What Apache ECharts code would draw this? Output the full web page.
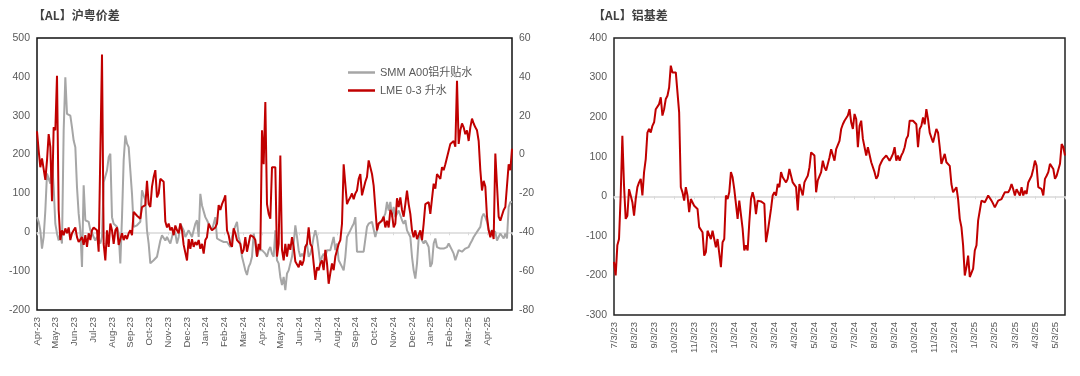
<!DOCTYPE html>
<html>
<head>
<meta charset="utf-8">
<script src="https://cdn.jsdelivr.net/npm/echarts@6/dist/echarts.min.js"></script>
<style>
html,body{margin:0;padding:0;background:#fff;}
#c{width:1080px;height:376px;}
</style>
</head>
<body>
<div id="c"></div>
<script>
// ---------------- DATA ----------------
// Left chart: month tick labels (one per month from Apr-23)
const monthLabelsL = ['Apr-23','May-23','Jun-23','Jul-23','Aug-23','Sep-23','Oct-23','Nov-23','Dec-23',
  'Jan-24','Feb-24','Mar-24','Apr-24','May-24','Jun-24','Jul-24','Aug-24','Sep-24','Oct-24','Nov-24','Dec-24',
  'Jan-25','Feb-25','Mar-25','Apr-25'];
// sampling interval of the readings, in months
const stepL = 4 / 45;
// SMM A00 premium (left axis), read every stepL months from Apr-23
const smm = [
  39, 27, 5, -42, -12, 56, 151, 151, 125, 185,
  116, 22, -3, -21, -3, -29, 262, 399, 305, 300,
  300, 270, 236, 219, 116, 48, 5, -89, 121, 31,
  31, 27, 5, -3, -12, -21, -12, -12, -29, -12,
  129, 129, 159, 193, 202, 39, 22, 22, 14, -3,
  -80, 39, 185, 249, 228, 219, 159, 99, 14, 14,
  18, 22, 27, 108, 108, 82, 5, -29, -80, -80,
  -72, -72, -63, -63, -21, -8, -12, -21, -12, -21,
  -29, -12, 5, -3, -29, -12, 22, 22, 5, -12,
  -3, 5, 5, -12, 5, 22, 31, -12, 99, 69,
  65, 39, 31, 22, 22, 5, 22, 39, -16, -21,
  -21, -25, -25, -29, -25, -29, -38, -12, 5, 5,
  27, -12, -29, -63, -80, -98, -110, -89, -80, -63,
  -3, -29, -63, -46, -46, -46, -50, -55, -63, -46,
  -38, -55, -63, 5, -72, -80, -115, -136, -115, -149,
  -106, -98, -80, -63, -29, 18, -12, -46, -63, -55,
  -63, -38, -29, -63, -55, -38, -12, 5, -12, -46,
  -80, -63, -55, -63, -46, -46, -46, -29, -12, -46,
  -29, -72, -72, -89, -98, -63, -12, -12, 5, 14,
  22, 39, -50, -50, -50, -50, -50, -50, 14, 22,
  27, 27, 31, -12, 5, 22, 27, 31, 39, 48,
  78, 56, 78, 39, 65, 39, 39, 56, 56, 31,
  22, 31, 5, 5, -12, -63, -98, -119, -80, -16,
  -3, -21, -29, -21, -29, -38, -89, -80, -29, -16,
  -38, -42, -42, -38, -42, -38, -38, -29, -29, -46,
  -55, -72, -72, -46, -46, -50, -46, -42, -46, -38,
  -29, -21, -12, -8, 1, 5, 14, 39, 48, 39,
  27, 5, -3, 5, 5, 1, -21, -16, -3, 1,
  -16, -3, -16, 65, 78, 78
];
// LME 0-3 spread (right axis), same sampling
const lme = [
  12, 2, -6.5, -2, -3, -13, -3, 10.5, 4, -24,
  14, 12.5, 40.5, -28.5, -44, -39, -41.5, -38, -40.5, -37.5,
  -44, -40.5, -39, -37.5, -42.5, -45, -46, -42.5, -46.5, -41.5,
  -47.5, -40.5, -44, -39, -37.5, -37.5, -39, -50, -49, 51.5,
  -46, -54.5, -39, -47.5, -35.5, -39, -46, -39, -37.5, -46.5,
  -47.5, -40.5, -44, -41.5, -43.5, -40.5, -39, -41.5, -29.5, -30.5,
  -31.5, -32, -33, -27, -27, -26, -13.5, -25.5, -27, -16.5,
  -11.5, -8, -22, -20, -12.5, -11.5, -14, -34.5, -37.5, -35.5,
  -39, -37.5, -41.5, -36.5, -39, -40.5, -35.5, -39, -46.5, -46,
  -54.5, -43.5, -48.5, -43.5, -47.5, -45, -46.5, -44, -48.5, -46,
  -51, -44, -42.5, -35.5, -37.5, -39, -38, -37.5, -35.5, -26,
  -28.5, -25.5, -23.5, -21, -39, -41.5, -46, -47.5, -38, -40.5,
  -44, -44, -46, -51, -49, -42.5, -50, -51, -41.5, -41.5,
  -42.5, -44, -52.5, -46, -49, 12.5, -5, 27, -25.5, -30.5,
  -33, -6.5, -6.5, -6.5, -52.5, -46, -0.5, -49, -54.5, -46,
  -52.5, -46, -49, -42.5, -47.5, -55, -56, -58, -54.5, -57,
  -54.5, -47.5, -46, -37.5, -46, -47.5, -56, -64.5, -58, -59.5,
  -56, -54.5, -59.5, -49, -56, -66.5, -61, -56, -59.5, -52.5,
  -52.5, -46, -44, -35.5, -5, -5, -25.5, -23.5, -22, -20,
  -23, -20, -18.5, -12.5, -10, -21, -22, -14, -11.5, -3,
  -6.5, -10, -16, -15, -39, -35.5, -35.5, -34, -32, -37.5,
  -34, -37.5, -28.5, -30.5, -37.5, -35.5, -22.5, -27, -22, -28.5,
  -32, -25.5, -18.5, -25.5, -30.5, -39, -42.5, -39, -43.5, -44,
  -39, -44, -35.5, -25.5, -25.5, -24.5, -30.5, -29.5, -15, -17.5,
  -10, -9, -12.5, -6.5, -8, -5, -1.5, 2, 5.5, 4.5,
  7, 4, 38, 5.5, 12.5, 16, 14, 10.5, 12.5, 7,
  14, 18.5, 16, 14, 12.5, 7, -8, -18.5, -13.5, -16.5,
  -32, -39, -42.5, -39, -43.5, 0.5, 0.5, -32, -34, -34,
  -28.5, -27, -27, -5, -8, 3
];

// Right chart: date tick labels (one per month from 7/3/23)
const dateLabelsR = ['7/3/23','8/3/23','9/3/23','10/3/23','11/3/23','12/3/23','1/3/24','2/3/24','3/3/24',
  '4/3/24','5/3/24','6/3/24','7/3/24','8/3/24','9/3/24','10/3/24','11/3/24','12/3/24','1/3/25','2/3/25',
  '3/3/25','4/3/25','5/3/25'];
const stepR = 1 / 12;
// aluminium basis, read every stepR months from 7/3/23
const basis = [
  -166, -200, -124, -108, 2, 153, 27, -57, -49, 18,
  2, -15, -49, -7, 23, 35, 44, 2, 61, 94,
  161, 170, 161, 178, 187, 220, 225, 233, 250, 204,
  220, 246, 254, 275, 330, 313, 313, 313, 313, 212,
  23, 10, -11, 23, 2, -40, -7, -7, -24, -28,
  -32, -78, -82, -91, -150, -141, -87, -91, -108, -87,
  -108, -129, -108, -112, -179, -116, -108, 2, -7, 10,
  61, 48, 18, -19, -57, -11, -15, -82, -137, -124,
  -137, -66, -7, 10, -7, -45, -11, -11, -13, -15,
  -19, -116, -91, -87, -32, 2, 10, 2, 31, 23,
  61, 48, 52, 35, 44, 69, 73, 35, 31, 23,
  -36, 31, 31, 2, 35, 44, 52, 73, 111, 107,
  103, 10, 40, 35, 61, 90, 73, 65, 61, 98,
  119, 115, 90, 119, 124, 140, 170, 182, 191, 187,
  204, 220, 187, 170, 208, 195, 124, 178, 191, 145,
  124, 103, 124, 119, 86, 82, 61, 44, 52, 77,
  86, 94, 90, 103, 98, 90, 98, 107, 124, 90,
  103, 90, 103, 111, 124, 145, 153, 191, 191, 191,
  187, 182, 124, 170, 178, 199, 182, 220, 195, 161,
  161, 136, 132, 170, 161, 124, 82, 82, 107, 86,
  82, 77, 31, 10, 10, 23, -7, -57, -78, -124,
  -200, -179, -150, -204, -209, -183, -137, -124, -61, -36,
  -11, -7, -15, -7, 2, -3, -11, -19, -28, -24,
  -11, -15, -7, 2, 10, 10, 10, 18, 31, 18,
  2, 18, 23, 2, 23, 2, 14, 6, 35, 31,
  52, 69, 90, 77, 23, 23, 18, 2, 44, 52,
  61, 82, 77, 69, 44, 52, 52, 82, 132, 124,
  103
];

// ---------------- CHART ----------------
const RED = '#C00000', GRAY = '#A6A6A6', LBL = '#595959', ZERO = '#D9D9D9';
const FONT = '"Liberation Sans", Arial, "Noto Sans CJK SC", sans-serif';
const toPairs = (arr, step) => arr.map((v, i) => [i * step, v]);
const maxL = (smm.length - 1) * stepL;
const maxR = (basis.length - 1) * stepR;
const labelFrom = labels => v => {
  const r = Math.round(v);
  return Math.abs(v - r) < 1e-6 && labels[r] !== undefined ? labels[r] : '';
};

function labelXAxis(grid, max, labels) {
  return {
    type: 'value', gridIndex: grid, min: 0, max: max, interval: 1, position: 'bottom',
    axisLine: { show: false, onZero: false }, axisTick: { show: false }, splitLine: { show: false },
    axisLabel: { rotate: 90, margin: 7, color: LBL, fontSize: 9.5, fontFamily: FONT,
      formatter: labelFrom(labels), showMinLabel: true, showMaxLabel: true, hideOverlap: false }
  };
}
function zeroXAxis(grid, max, yIdx) {
  return {
    type: 'value', gridIndex: grid, min: 0, max: max, interval: 1, position: 'bottom',
    axisLine: { show: true, onZero: true, onZeroAxisIndex: yIdx, lineStyle: { color: ZERO, width: 1.5 } },
    axisTick: { show: true, length: 3, lineStyle: { color: ZERO, width: 1 } },
    axisLabel: { show: false }, splitLine: { show: false }
  };
}
function yAx(grid, pos, min, max, interval) {
  return {
    type: 'value', gridIndex: grid, position: pos, min: min, max: max, interval: interval,
    axisLine: { show: false, onZero: false }, axisTick: { show: false }, splitLine: { show: false },
    axisLabel: { color: LBL, fontSize: 10.5, fontFamily: FONT, margin: 7 }
  };
}

const chart = echarts.init(document.getElementById('c'), null, { renderer: 'canvas' });
chart.setOption({
  animation: false,
  backgroundColor: '#fff',
  title: [
    { text: '【AL】沪粤价差', left: 28, top: 4,
      textStyle: { fontSize: 12, fontWeight: 'bold', color: '#404040', fontFamily: '"Noto Sans CJK SC", sans-serif' } },
    { text: '【AL】铝基差', left: 588, top: 4,
      textStyle: { fontSize: 12, fontWeight: 'bold', color: '#404040', fontFamily: '"Noto Sans CJK SC", sans-serif' } }
  ],
  grid: [
    { left: 37, top: 38, width: 475, height: 272, show: true, borderColor: '#111', borderWidth: 1.5, backgroundColor: 'transparent' },
    { left: 614, top: 38, width: 451, height: 277, show: true, borderColor: '#222', borderWidth: 1.5, backgroundColor: 'transparent' }
  ],
  legend: {
    data: ['SMM A00铝升贴水', 'LME 0-3 升水'],
    orient: 'vertical', left: 343, top: 62, itemGap: 7,
    icon: 'rect', itemWidth: 27, itemHeight: 2.5,
    textStyle: { color: LBL, fontSize: 11, fontFamily: FONT }
  },
  xAxis: [
    labelXAxis(0, maxL, monthLabelsL),
    zeroXAxis(0, maxL, 0),
    labelXAxis(1, maxR, dateLabelsR),
    zeroXAxis(1, maxR, 2)
  ],
  yAxis: [
    yAx(0, 'left', -200, 500, 100),
    yAx(0, 'right', -80, 60, 20),
    yAx(1, 'left', -300, 400, 100)
  ],
  series: [
    { name: 'SMM A00铝升贴水', type: 'line', xAxisIndex: 0, yAxisIndex: 0, data: toPairs(smm, stepL),
      showSymbol: false, symbol: 'none', lineStyle: { color: GRAY, width: 2 }, itemStyle: { color: GRAY } },
    { name: 'LME 0-3 升水', type: 'line', xAxisIndex: 0, yAxisIndex: 1, data: toPairs(lme, stepL),
      showSymbol: false, symbol: 'none', lineStyle: { color: RED, width: 2 }, itemStyle: { color: RED } },
    { name: '铝基差', type: 'line', xAxisIndex: 2, yAxisIndex: 2, data: toPairs(basis, stepR),
      showSymbol: false, symbol: 'none', lineStyle: { color: RED, width: 2 }, itemStyle: { color: RED } }
  ]
});
</script>
</body>
</html>
